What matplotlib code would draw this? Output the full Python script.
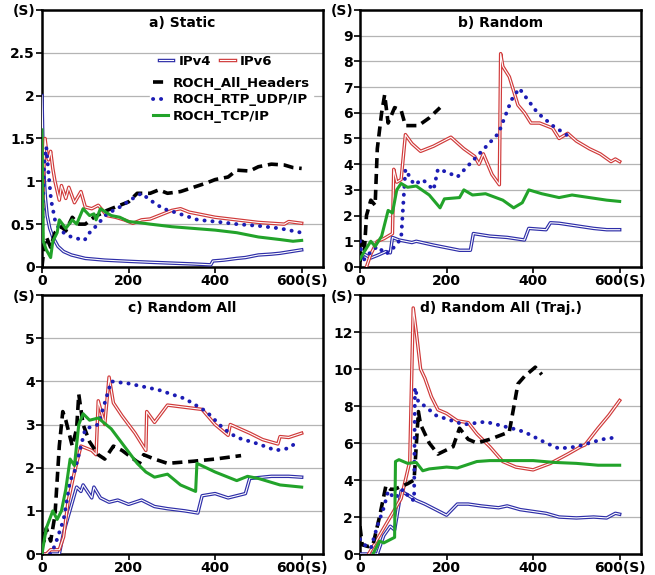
import matplotlib
matplotlib.use("Agg")
import matplotlib.pyplot as plt
import matplotlib.patheffects as pe

plt.rcParams['font.family'] = ['DejaVu Sans']
plt.rcParams['font.weight'] = 'bold'

# ---- a) Static ----
a_ipv4_t = [0, 3, 8, 12, 18, 25, 37, 50, 68, 100, 145, 200, 250, 300, 350, 390, 395, 420, 450, 470, 500, 530, 550, 575, 600]
a_ipv4_v = [2.0, 1.2, 0.8, 0.6, 0.45, 0.35, 0.24, 0.18, 0.14, 0.1, 0.08, 0.066, 0.055, 0.045, 0.035, 0.025, 0.07, 0.08, 0.1, 0.11, 0.14, 0.15, 0.16, 0.18, 0.2]
a_ipv6_t = [0, 3, 7, 12, 15, 20, 25, 30, 40, 45, 55, 62, 75, 90, 100, 115, 130, 150, 170, 190, 210, 230, 250, 270, 300, 320, 340, 360, 400, 450, 500, 560, 570, 600]
a_ipv6_v = [0.3, 1.0, 1.5, 1.3, 1.25, 1.35, 1.15, 1.0, 0.78, 0.95, 0.8, 0.93, 0.75, 0.88, 0.7, 0.68, 0.72, 0.6, 0.58, 0.55, 0.51, 0.55, 0.56, 0.6, 0.66, 0.68, 0.64, 0.62, 0.58, 0.55, 0.52, 0.5, 0.53, 0.51]
a_all_t = [0, 5, 10, 20, 30, 45, 55, 70, 85, 100, 120, 150, 180, 200, 220, 250, 270, 290, 320, 350, 380, 400, 430, 450, 480, 500, 530, 560, 580, 600]
a_all_v = [0.0, 0.25, 0.35, 0.23, 0.4, 0.47, 0.42, 0.58, 0.5, 0.5, 0.58, 0.66, 0.72, 0.76, 0.86, 0.86, 0.9, 0.86, 0.88, 0.93, 0.98, 1.02, 1.05, 1.13, 1.12, 1.17, 1.2, 1.19, 1.16, 1.15]
a_rtp_t = [0, 5, 10, 15, 21, 30, 37, 52, 68, 98, 110, 120, 150, 180, 210, 230, 250, 280, 300, 330, 360, 400, 450, 500, 550, 600]
a_rtp_v = [0.3, 1.2, 1.4, 1.1, 0.78, 0.55, 0.47, 0.39, 0.35, 0.31, 0.4, 0.45, 0.62, 0.7, 0.8, 0.86, 0.78, 0.68, 0.65, 0.6, 0.55, 0.53, 0.5, 0.48, 0.45, 0.4]
a_tcp_t = [0, 3, 10, 20, 25, 35, 40, 55, 70, 80, 95, 110, 120, 125, 135, 160, 180, 200, 220, 250, 300, 350, 400, 450, 500, 550, 580, 600]
a_tcp_v = [1.6, 0.3, 0.2, 0.11, 0.3, 0.4, 0.55, 0.45, 0.55, 0.5, 0.68, 0.6, 0.62, 0.55, 0.68, 0.6, 0.58, 0.53, 0.52, 0.5, 0.47, 0.45, 0.43, 0.4, 0.35, 0.32, 0.3, 0.31]

# ---- b) Random ----
b_ipv4_t = [0, 10, 25, 40, 60, 70, 75, 90, 120, 130, 170, 200, 230, 255, 262, 300, 340, 380, 390, 430, 440, 460, 500, 540, 570, 600]
b_ipv4_v = [0.3, 0.5, 0.35, 0.45, 0.6, 0.55, 1.15, 1.05, 0.95, 1.0, 0.85, 0.75, 0.65, 0.65, 1.3, 1.2, 1.15, 1.05, 1.5, 1.45, 1.72, 1.7, 1.6, 1.5, 1.45, 1.45]
b_ipv6_t = [15, 25, 40, 55, 75, 78, 85, 95, 105, 120, 140, 170, 210, 240, 265, 275, 285, 305, 322, 325, 330, 345, 365, 380, 395, 415, 445, 460, 480, 500, 530, 555, 580, 590, 600]
b_ipv6_v = [0.0, 0.5, 1.0, 1.1, 1.3, 3.8, 3.3, 3.4, 5.15, 4.8, 4.5, 4.7, 5.05, 4.6, 4.3, 4.0, 4.4, 3.6, 3.2, 8.3, 7.8, 7.4, 6.3, 6.0, 5.6, 5.6, 5.4, 5.0, 5.2, 4.9, 4.6, 4.4, 4.1, 4.2, 4.1]
b_all_t = [0, 5, 10, 15, 25, 35, 40, 50, 57, 65, 80, 95, 105, 135, 160, 185]
b_all_v = [0.2, 1.0, 0.6, 2.0, 2.6, 2.4, 4.6, 6.0, 6.7, 5.6, 6.2, 6.1, 5.5, 5.5, 5.8, 6.2]
b_rtp_t = [0, 5, 20, 40, 60, 75, 95, 105, 125, 145, 170, 180, 200, 225, 270, 320, 350, 368, 410, 445, 490]
b_rtp_v = [1.0, 0.2, 0.5, 0.8, 0.5, 0.7, 1.1, 3.8, 3.2, 3.4, 3.0, 3.8, 3.7, 3.5, 4.3, 5.2, 6.5, 6.95, 6.0, 5.5, 5.0]
b_tcp_t = [0, 10, 25, 35, 50, 65, 75, 85, 95, 110, 130, 160, 185, 195, 230, 240, 260, 290, 330, 355, 375, 390, 420, 460, 490, 530, 570, 600]
b_tcp_v = [0.3, 0.6, 1.0, 0.8, 1.2, 2.2, 2.1, 3.0, 3.25, 3.1, 3.15, 2.8, 2.3, 2.65, 2.7, 3.0, 2.8, 2.85, 2.6, 2.3, 2.5, 3.0, 2.85, 2.7, 2.8, 2.7, 2.6, 2.55]

# ---- c) Random All ----
c_ipv4_t = [0, 40, 50, 70, 80, 90, 95, 115, 120, 135, 155, 175, 200, 230, 260, 290, 330, 360, 370, 400, 430, 470, 480, 530, 570, 600]
c_ipv4_v = [0.0, 0.0, 0.5, 1.2, 1.55, 1.45, 1.6, 1.3, 1.55, 1.3, 1.2, 1.25, 1.15, 1.25, 1.1, 1.05, 1.0, 0.95, 1.35, 1.4, 1.3, 1.4, 1.75, 1.8, 1.8, 1.78]
c_ipv6_t = [0, 10, 20, 40, 50, 60, 75, 90, 115, 125, 130, 145, 155, 165, 185, 215, 240, 242, 260, 290, 330, 370, 400, 430, 435, 480, 510, 545, 550, 570, 600]
c_ipv6_v = [0.0, 0.0, 0.1, 0.1, 0.4, 1.2, 1.9, 2.5, 2.4, 2.3, 3.55, 3.0, 4.1, 3.5, 3.2, 2.8, 2.4, 3.3, 3.05, 3.45, 3.4, 3.35, 3.0, 2.75, 3.0, 2.8, 2.65, 2.55, 2.72, 2.7, 2.8]
c_all_t = [0, 5, 10, 20, 30, 40, 48, 55, 70, 80, 85, 95, 110, 130, 145, 165, 185, 225, 235, 260, 290, 350, 400, 460]
c_all_v = [0.5, 0.3, 0.6, 0.3, 0.9, 2.5, 3.3, 3.1, 2.5, 2.9, 3.7, 3.0, 2.6, 2.3, 2.2, 2.5, 2.4, 2.1, 2.3, 2.2, 2.1, 2.15, 2.2, 2.28]
c_rtp_t = [0, 20, 30, 50, 65, 75, 100, 130, 145, 160, 200, 270, 330, 380, 420, 450, 500, 540, 570, 590]
c_rtp_v = [0.0, 0.0, 0.2, 0.8, 1.7, 1.9, 2.9, 3.0, 3.5, 4.0, 3.95, 3.8, 3.6, 3.3, 2.9, 2.7, 2.55, 2.4, 2.45, 2.6]
c_tcp_t = [0, 10, 25, 35, 45, 55, 65, 75, 85, 95, 110, 130, 160, 190, 220, 240, 260, 290, 320, 355, 358, 400, 450, 475, 500, 550, 600]
c_tcp_v = [0.0, 0.6, 1.0, 0.8, 1.0, 1.5, 2.2, 2.05, 3.0, 3.25, 3.1, 3.15, 2.9, 2.5, 2.1, 1.9, 1.78, 1.85, 1.6, 1.45, 2.1, 1.9, 1.7, 1.8, 1.75, 1.6, 1.55]

# ---- d) Random All (Traj.) ----
d_ipv4_t = [0, 40, 55, 70, 80, 95, 110, 130, 150, 175, 200, 225, 250, 280, 320, 340, 370, 400, 430, 460, 500, 540, 570, 590, 600]
d_ipv4_v = [0.0, 0.0, 1.0, 1.5, 1.3, 3.4, 3.2, 2.9, 2.7, 2.4, 2.1, 2.7, 2.7, 2.6, 2.5, 2.6, 2.4, 2.3, 2.2, 2.0, 1.95, 2.0, 1.95, 2.2, 2.15]
d_ipv6_t = [20, 95, 115, 123, 130, 140, 150, 165, 180, 200, 225, 250, 270, 300, 330, 360, 400, 440, 480, 510, 520, 550, 575, 600]
d_ipv6_v = [0.0, 3.0, 5.0, 13.3, 12.0, 10.0, 9.5, 8.5, 7.8, 7.6, 7.2, 7.1, 6.5, 5.8, 5.0, 4.7, 4.55, 4.9, 5.4, 5.8, 5.9, 6.8, 7.5, 8.3]
d_all_t = [0, 5, 20, 30, 45, 60, 70, 80, 110, 125, 135, 140, 160, 180, 215, 230, 250, 270, 300, 345, 365, 380, 405, 420]
d_all_v = [1.5, 0.5, 0.4, 0.5, 2.0, 3.7, 3.5, 3.5, 3.8, 4.0, 7.7, 7.0, 6.0, 5.4, 5.8, 6.8, 6.2, 6.0, 6.2, 6.6, 9.2, 9.6, 10.1, 9.7]
d_rtp_t = [0, 10, 25, 40, 55, 65, 80, 100, 115, 125, 127, 135, 150, 175, 200, 240, 290, 350, 380, 430, 460, 500, 530, 560, 590]
d_rtp_v = [0.8, 0.5, 0.3, 1.5, 2.5, 3.4, 3.0, 3.5, 3.0, 2.9, 9.0, 8.2, 8.0, 7.5, 7.3, 7.0, 7.15, 6.8, 6.6, 6.0, 5.7, 5.8, 6.0, 6.2, 6.3]
d_tcp_t = [30, 45, 55, 80, 82, 90, 110, 130, 145, 160, 200, 225, 270, 300, 400, 450, 500, 550, 600]
d_tcp_v = [0.0, 0.7, 0.6, 0.9, 5.0, 5.1, 4.9, 4.95, 4.5, 4.6, 4.7, 4.65, 5.0, 5.05, 5.05, 4.95, 4.9, 4.8, 4.8]

titles = ['a) Static', 'b) Random', 'c) Random All', 'd) Random All (Traj.)']
labels = ['IPv4', 'IPv6', 'ROCH_All_Headers', 'ROCH_RTP_UDP/IP', 'ROCH_TCP/IP']
y_max = [3, 10, 6, 14]
y_step = [0.5, 1, 1, 2]

panels = [
    [(a_ipv4_t, a_ipv4_v), (a_ipv6_t, a_ipv6_v), (a_all_t, a_all_v), (a_rtp_t, a_rtp_v), (a_tcp_t, a_tcp_v)],
    [(b_ipv4_t, b_ipv4_v), (b_ipv6_t, b_ipv6_v), (b_all_t, b_all_v), (b_rtp_t, b_rtp_v), (b_tcp_t, b_tcp_v)],
    [(c_ipv4_t, c_ipv4_v), (c_ipv6_t, c_ipv6_v), (c_all_t, c_all_v), (c_rtp_t, c_rtp_v), (c_tcp_t, c_tcp_v)],
    [(d_ipv4_t, d_ipv4_v), (d_ipv6_t, d_ipv6_v), (d_all_t, d_all_v), (d_rtp_t, d_rtp_v), (d_tcp_t, d_tcp_v)],
]

blue = '#2e2ea8'
red = '#d03a3a'
green = '#22a32a'
dot_blue = '#1c1cb4'


def fmt(v):
    return '%g' % v


fig = plt.figure(figsize=(6.55, 5.75), dpi=100)
boxes = [
    [0.0641, 0.5357, 0.4295, 0.4470],
    [0.5496, 0.5357, 0.4295, 0.4470],
    [0.0641, 0.0365, 0.4295, 0.4504],
    [0.5496, 0.0365, 0.4295, 0.4504],
]

for k, box in enumerate(boxes):
    ax = fig.add_axes(box)
    series = panels[k]
    lines = []
    # IPv4 / IPv6 drawn as hollow double lines
    for (t, v), col in zip(series[:2], [blue, red]):
        ln, = ax.plot(t, v, color='white', lw=0.8, zorder=3,
                      path_effects=[pe.Stroke(linewidth=2.5, foreground=col), pe.Normal()])
        lines.append(ln)
    t, v = series[2]
    ln, = ax.plot(t, v, color='black', lw=2.6, dashes=(2.8, 1.6), zorder=4)
    lines.append(ln)
    t, v = series[3]
    ln, = ax.plot(t, v, color=dot_blue, lw=2.8, linestyle=(0, (0.05, 2.0)),
                  dash_capstyle='round', zorder=5)
    lines.append(ln)
    t, v = series[4]
    ln, = ax.plot(t, v, color=green, lw=2.2, zorder=6)
    lines.append(ln)

    ax.set_xlim(0, 650)
    ax.set_ylim(0, y_max[k])
    ax.set_xticks([0, 200, 400, 600])
    ax.set_xticklabels(['0', '200', '400', '600(S)'])
    yt = []
    y = 0.0
    while y < y_max[k] - 1e-9:
        yt.append(y)
        y += y_step[k]
    ax.set_yticks(yt + [y_max[k]])
    ax.set_yticklabels([fmt(v) for v in yt] + ['(S)'])
    ax.tick_params(direction='out', length=4, width=1.2, labelsize=10, pad=1)
    ax.yaxis.grid(True, color='#b4b4b4', lw=0.9)
    ax.set_axisbelow(True)
    for s in ax.spines.values():
        s.set_linewidth(1.8)
        s.set_color('black')
    ax.text(0.5, 0.95, titles[k], transform=ax.transAxes, ha='center', va='center',
            fontsize=10, fontweight='bold', zorder=10)

    if k == 0:
        leg1 = ax.legend(lines[:2], labels[:2], ncol=2, loc='center left',
                         bbox_to_anchor=(0.405, 0.80), frameon=False, fontsize=9.5,
                         handlelength=1.1, handletextpad=0.4, columnspacing=0.7,
                         borderpad=0.2, borderaxespad=0)
        ax.add_artist(leg1)
        leg2 = ax.legend(lines[2:], labels[2:], loc='center left',
                         bbox_to_anchor=(0.383, 0.65), frameon=True, fontsize=9.5,
                         handlelength=1.1, handletextpad=0.4, labelspacing=0.25,
                         borderpad=0.25, borderaxespad=0, fancybox=False,
                         framealpha=1, edgecolor='white', facecolor='white')
        leg2.set_zorder(8)

fig.savefig('out.png', dpi=100)
